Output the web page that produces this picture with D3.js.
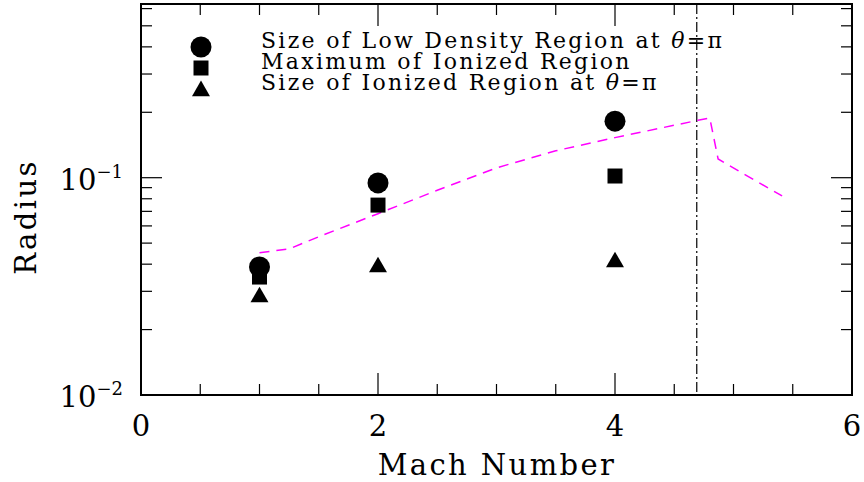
<!DOCTYPE html>
<html>
<head>
<meta charset="utf-8">
<script src="https://cdn.jsdelivr.net/npm/d3@7"></script>
<style>
  body { margin: 0; background: #fff; }
  text { font-family: "DejaVu Serif", "Liberation Serif", serif; fill: #000; }
</style>
</head>
<body>
<script>
// Mach numbers of the simulations
var mach = [1, 2, 4];

// Size of Low Density Region at theta = pi
var low_density = [0.0388, 0.0946, 0.182];
// Maximum of Ionized Region
var ion_max = [0.0349, 0.0748, 0.1018];
// Size of Ionized Region at theta = pi
var ion_pi = [0.0282, 0.0388, 0.0409];

// analytic curve (magenta dashed)
var curve_x = [1.0, 1.25, 1.5, 2.0, 2.5, 3.0, 3.5, 4.0, 4.5, 4.7, 4.8, 4.87, 5.1, 5.41];
var curve_y = [0.0452, 0.047, 0.0535, 0.0683, 0.0875, 0.111, 0.133, 0.1529, 0.1743, 0.1837, 0.188, 0.122, 0.103, 0.0824];

// vertical dash-dot marker
var critical_mach = 4.69;

var x_ticks = [0, 2, 4, 6];
var y_ticks = [{v: 0.01, exp: "\u22122"}, {v: 0.1, exp: "\u22121"}];

var legend_labels = [
    ["Size of Low Density Region at ", "\u03b8", "=\u03c0"],
    ["Maximum of Ionized Region"],
    ["Size of Ionized Region at ", "\u03b8", "=\u03c0"]
];

var width = 864, height = 482;
// plot frame (window.top is reserved, so use other names)
var pl = 141, pr = 852, pt = 4, pb = 395;

var svg = d3.select("body").append("svg").attr("width", width).attr("height", height);

var x = d3.scaleLinear().domain([0, 6]).range([pl, pr]);
var y = d3.scaleLog().domain([0.01, 0.63]).range([pb, pt]);

// ticks on all four sides
var ticks = svg.append("g").attr("stroke", "#000").attr("stroke-width", 1.2);
var x_minor = d3.range(0.5, 6, 0.5);
x_minor.forEach(function(v) {
    var major = (v % 2 === 0);
    var len = major ? 22 : 11;
    ticks.append("line").attr("x1", x(v)).attr("x2", x(v)).attr("y1", pb).attr("y2", pb - len);
    ticks.append("line").attr("x1", x(v)).attr("x2", x(v)).attr("y1", pt).attr("y2", pt + len);
});
var y_minor = [];
[0.01, 0.1].forEach(function(d) {
    for (var k = 1; k <= 9; k++) {
        var v = d * k;
        if (v < 0.63 && v > 0.011) y_minor.push({v: v, major: k === 1});
    }
});
y_minor.forEach(function(t) {
    var len = t.major ? 21 : 11;
    ticks.append("line").attr("x1", pl).attr("x2", pl + len).attr("y1", y(t.v)).attr("y2", y(t.v));
    ticks.append("line").attr("x1", pr).attr("x2", pr - len).attr("y1", y(t.v)).attr("y2", y(t.v));
});

// frame
svg.append("rect")
    .attr("x", pl).attr("y", pt)
    .attr("width", pr - pl).attr("height", pb - pt)
    .attr("fill", "none").attr("stroke", "#000").attr("stroke-width", 2);

// tick labels
svg.append("g").selectAll("text").data(x_ticks).enter().append("text")
    .attr("x", function(d) { return x(d); })
    .attr("y", pb + 41)
    .attr("text-anchor", "middle")
    .attr("font-size", 29)
    .text(function(d) { return d; });

var yl = svg.append("g").selectAll("text").data(y_ticks).enter().append("text")
    .attr("x", 123)
    .attr("y", function(d) { return y(d.v) + 12; })
    .attr("text-anchor", "end")
    .attr("font-size", 29);
yl.append("tspan").text("10");
yl.append("tspan").attr("font-size", 18).attr("dy", -12).text(function(d) { return d.exp; });

// axis titles
svg.append("text")
    .attr("x", 497).attr("y", 475)
    .attr("text-anchor", "middle")
    .attr("font-size", 29)
    .attr("letter-spacing", 2.4)
    .text("Mach Number");

svg.append("text")
    .attr("transform", "translate(36,217) rotate(-90)")
    .attr("text-anchor", "middle")
    .attr("font-size", 29)
    .attr("letter-spacing", 2.4)
    .text("Radius");

// vertical dash-dot line
svg.append("line")
    .attr("x1", x(critical_mach)).attr("x2", x(critical_mach))
    .attr("y1", pt).attr("y2", pb)
    .attr("stroke", "#000").attr("stroke-width", 1.2)
    .attr("stroke-dasharray", "10,3,2,3");

// magenta dashed curve
var curve = curve_x.map(function(v, i) { return [v, curve_y[i]]; });
svg.append("path")
    .datum(curve)
    .attr("fill", "none")
    .attr("stroke", "#ff00ff")
    .attr("stroke-width", 1.5)
    .attr("stroke-dasharray", "10,7")
    .attr("d", d3.line().x(function(d) { return x(d[0]); }).y(function(d) { return y(d[1]); }));

// data markers
var series = [
    {vals: low_density, sym: d3.symbolCircle, size: 346},
    {vals: ion_max, sym: d3.symbolSquare, size: 225},
    {vals: ion_pi, sym: d3.symbolTriangle, size: 140}
];
series.forEach(function(s) {
    svg.append("g").selectAll("path").data(s.vals).enter().append("path")
        .attr("transform", function(d, i) { return "translate(" + x(mach[i]) + "," + y(d) + ")"; })
        .attr("d", d3.symbol().type(s.sym).size(s.size))
        .attr("fill", "#000");
});

// legend
var leg = svg.append("g");
series.forEach(function(s, i) {
    var ly = 47 + i * 21;
    leg.append("path")
        .attr("transform", "translate(201," + (ly + (i === 2 ? 2 : 0)) + ")")
        .attr("d", d3.symbol().type(s.sym).size(s.size))
        .attr("fill", "#000");
    var t = leg.append("text")
        .attr("x", 261).attr("y", ly + 1)
        .attr("font-size", 22)
        .attr("letter-spacing", 2.3);
    legend_labels[i].forEach(function(part) {
        var sp = t.append("tspan").text(part);
        if (part === "\u03b8") sp.attr("font-style", "italic");
    });
});
</script>
</body>
</html>
